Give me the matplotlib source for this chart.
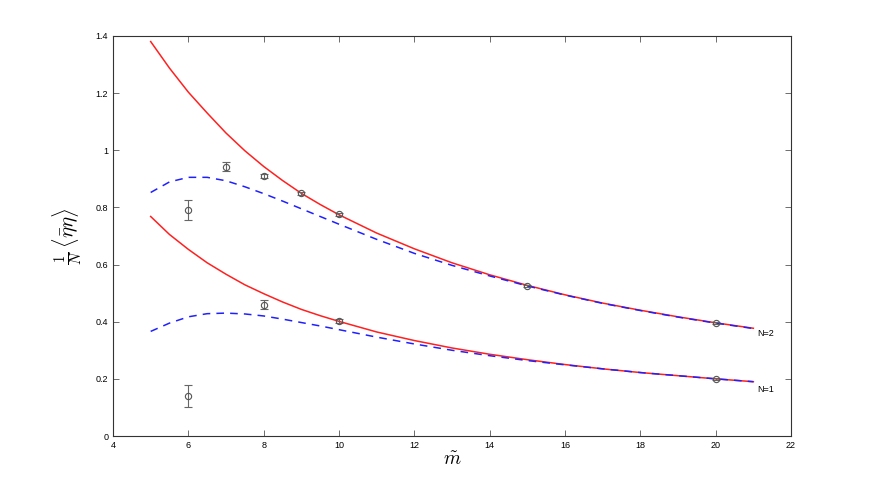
import matplotlib
matplotlib.use("Agg")
import matplotlib.pyplot as plt

# lattice data (m tilde, value, error)
m_pts = [6, 6, 7, 8, 8, 9, 10, 10, 15, 20, 20]
y_pts = [0.789, 0.140, 0.942, 0.909, 0.460, 0.849, 0.775, 0.403, 0.526, 0.396, 0.200]
y_err = [0.035, 0.040, 0.015, 0.008, 0.015, 0.006, 0.006, 0.006, 0.004, 0.004, 0.004]

# curves
m_curve = [5, 5.5, 6, 6.5, 7, 7.5, 8, 8.5, 9, 9.5, 10, 11, 12, 13, 14, 15, 16, 17, 18, 19, 20, 21]
y_red2 = [1.380, 1.287, 1.203, 1.130, 1.060, 0.998, 0.943, 0.894, 0.849, 0.810, 0.774,
          0.710, 0.655, 0.606, 0.564, 0.527, 0.494, 0.465, 0.440, 0.417, 0.396, 0.377]
y_blue2 = [0.852, 0.889, 0.905, 0.905, 0.893, 0.872, 0.848, 0.822, 0.795, 0.768, 0.741,
           0.688, 0.639, 0.597, 0.560, 0.525, 0.493, 0.464, 0.439, 0.416, 0.395, 0.376]
y_red1 = [0.768, 0.705, 0.653, 0.606, 0.566, 0.529, 0.498, 0.469, 0.443, 0.421, 0.401,
          0.364, 0.334, 0.308, 0.286, 0.267, 0.250, 0.235, 0.222, 0.211, 0.200, 0.190]
y_blue1 = [0.366, 0.395, 0.417, 0.428, 0.430, 0.427, 0.420, 0.409, 0.397, 0.385, 0.372,
           0.346, 0.322, 0.300, 0.281, 0.264, 0.249, 0.235, 0.222, 0.211, 0.200, 0.190]

xticks = [4, 6, 8, 10, 12, 14, 16, 18, 20, 22]
yticks = [0, 0.2, 0.4, 0.6, 0.8, 1, 1.2, 1.4]
ytick_labels = ["0", "0.2", "0.4", "0.6", "0.8", "1", "1.2", "1.4"]

plt.rcParams["font.family"] = ["Liberation Sans", "DejaVu Sans"]
plt.rcParams["mathtext.fontset"] = "cm"

fig = plt.figure(figsize=(8.76, 4.91), dpi=100)
ax = fig.add_axes([0.129, 0.112, 0.774, 0.815])

ax.plot(m_curve, y_red2, color="#ff2020", lw=1.1)
ax.plot(m_curve, y_blue2, color="#2020ff", lw=1.1, ls=(0, (5, 4)))
ax.plot(m_curve, y_red1, color="#ff2020", lw=1.1)
ax.plot(m_curve, y_blue1, color="#2020ff", lw=1.1, ls=(0, (5, 4)))

ax.errorbar(m_pts, y_pts, yerr=y_err, fmt="o", mfc="none", mec="#555555",
            ecolor="#666666", ms=4.5, mew=0.8, elinewidth=0.8, capsize=3, capthick=0.8)

ax.text(21.1, 0.358, "N=2", fontsize=6.5, va="center")
ax.text(21.1, 0.161, "N=1", fontsize=6.5, va="center")

ax.set_xlim(4, 22)
ax.set_ylim(0, 1.4)
ax.set_xticks(xticks)
ax.set_yticks(yticks)
ax.set_yticklabels(ytick_labels)
ax.tick_params(direction="in", top=True, right=True, labelsize=6.5, length=4,
               width=0.6, color="#555555")
for s in ax.spines.values():
    s.set_linewidth(0.8)
    s.set_color("#333333")

ax.set_xlabel(r"$\tilde{m}$", fontsize=14, labelpad=1)
ax.set_ylabel(r"$\frac{1}{N}\,\langle\bar{\eta}\eta\rangle$", fontsize=15, labelpad=8)

fig.savefig("out.png", dpi=100)
